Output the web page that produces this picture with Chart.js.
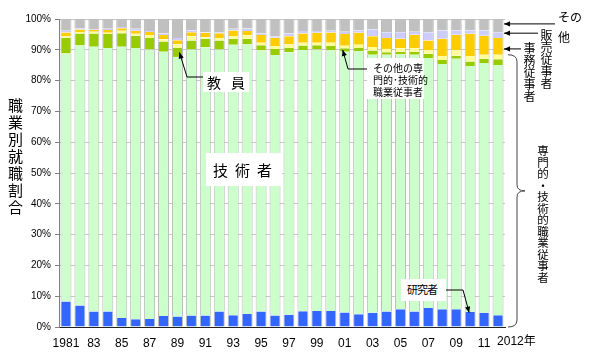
<!DOCTYPE html>
<html><head><meta charset="utf-8">
<script src="https://cdn.jsdelivr.net/npm/chart.js@4.4.1/dist/chart.umd.min.js"></script>
<style>
html,body{margin:0;padding:0;background:#fff;}
#wrap{position:relative;width:600px;height:360px;overflow:hidden;font-family:"Noto Sans CJK JP",sans-serif;color:#000;}
canvas{position:absolute;left:0;top:0;}
.lbl{position:absolute;white-space:nowrap;line-height:1;}
.box{background:#fff;}
.v{writing-mode:vertical-rl;text-orientation:upright;}
</style></head>
<body>
<div id="wrap">
<canvas id="c" width="600" height="360"></canvas>
<div class="lbl v" style="left:7px;top:98px;font-size:15px;line-height:16px;letter-spacing:2px;">職業別就職割合</div>
<div class="lbl box" style="left:203px;top:72px;width:46px;height:20px;"></div>
<div class="lbl" style="left:207px;top:75px;font-size:14px;">教<span style="margin-left:10px">員</span></div>
<div class="lbl box" style="left:206px;top:153px;width:76px;height:33px;"></div>
<div class="lbl" style="left:213px;top:162px;font-size:15px;">技<span style="margin-left:7px">術</span><span style="margin-left:7px">者</span></div>
<div class="lbl box" style="left:367px;top:58px;width:57px;height:41px;"></div>
<div class="lbl" style="left:373px;top:62px;font-size:10px;line-height:12px;">その他の専<br>門的･技術的<br>職業従事者</div>
<div class="lbl box" style="left:401px;top:279px;width:45px;height:22px;"></div>
<div class="lbl" style="left:407px;top:284px;font-size:11px;letter-spacing:-1px;">研究者</div>
<div class="lbl" style="left:558px;top:7px;font-size:12px;line-height:20px;">その<br>他</div>
<div class="lbl v" style="left:540px;top:29px;font-size:12px;line-height:12px;">販売従事者</div>
<div class="lbl v" style="left:523px;top:42px;font-size:12px;line-height:12px;">事務従事者</div>
<div class="lbl v" style="left:537px;top:145px;font-size:11.5px;line-height:12px;">専門的・技術的職業従事者</div>
</div>
<script>
const years = [1981,1982,1983,1984,1985,1986,1987,1988,1989,1990,1991,1992,1993,1994,1995,1996,1997,1998,1999,2000,2001,2002,2003,2004,2005,2006,2007,2008,2009,2010,2011,2012];
const tickLabels = ['1981','','83','','85','','87','','89','','91','','93','','95','','97','','99','','01','','03','','05','','07','','09','','11','2012年'];
const researchers = [8.3,7.0,5.0,5.0,2.9,2.5,2.6,3.6,3.4,3.7,3.7,5.0,3.8,4.2,5.0,3.7,4.0,5.1,5.2,5.2,4.7,4.1,4.6,5.0,5.8,5.0,6.2,5.8,5.8,4.9,4.6,3.8];
const engineers = [80.5,84.4,86.0,85.6,88.1,88.1,87.5,85.8,84.3,86.4,87.1,85.1,87.8,87.5,84.8,84.6,85.2,84.8,84.9,84.6,84.7,85.5,83.8,83.4,82.7,83.4,81.1,79.6,81.3,79.8,81.1,81.3];
const teachers = [5.0,3.9,4.3,4.5,4.4,4.0,3.7,3.3,2.9,2.9,2.8,2.9,2.0,1.9,1.7,2.0,1.4,1.5,1.4,1.4,1.1,1.0,1.4,0.8,0.9,1.0,1.4,1.3,1.0,1.5,1.4,1.8];
const otherProfessional = [0.5,0.5,0.6,0.4,0.8,0.6,1.0,0.7,1.2,1.4,0.5,0.8,0.9,1.1,0.8,0.9,1.1,0.9,0.8,1.1,0.8,1.0,1.1,1.1,1.1,1.1,1.1,1.3,1.7,1.8,1.3,1.5];
const clerical = [1.3,0.8,0.5,0.9,0.8,1.0,1.0,1.4,1.3,1.3,1.4,1.6,1.8,1.4,2.5,2.7,2.7,3.0,3.2,3.3,3.8,3.9,3.5,3.5,3.1,4.4,3.2,5.6,5.1,7.2,6.2,5.4];
const sales = [0.6,0.4,0.3,0.4,0.4,0.6,0.3,0.5,0.7,0.6,0.2,0.3,0.5,0.8,0.5,0.5,0.9,0.8,0.6,0.6,0.8,0.8,2.2,1.9,2.1,1.0,2.7,2.7,1.4,1.1,1.7,1.9];
const others = [3.8,3.0,3.3,3.2,2.6,3.2,3.9,4.7,6.2,3.7,4.3,4.3,3.2,3.1,4.7,5.6,4.7,3.9,3.9,3.8,4.1,3.7,3.4,4.3,4.3,4.1,4.3,3.7,3.7,3.7,3.7,4.3];
const seriesNames = ['研究者','技術者','教員','その他の専門的・技術的職業従事者','事務従事者','販売従事者','その他'];
const series = [researchers, engineers, teachers, otherProfessional, clerical, sales, others];
const colors = ['#3366FF','#CCFFCC','#99CC00','#FFFF99','#FFCC00','#CCCCFF','#C0C0C0'];

function arrow(ctx, pts){
  ctx.beginPath();
  ctx.moveTo(pts[0][0], pts[0][1]);
  for (let i=1;i<pts.length;i++) ctx.lineTo(pts[i][0], pts[i][1]);
  ctx.stroke();
  const [x2,y2] = pts[pts.length-1], [x1,y1] = pts[pts.length-2];
  const a = Math.atan2(y2-y1, x2-x1), L = 6, W = 2.6;
  ctx.beginPath();
  ctx.moveTo(x2,y2);
  ctx.lineTo(x2 - L*Math.cos(a) + W*Math.sin(a), y2 - L*Math.sin(a) - W*Math.cos(a));
  ctx.lineTo(x2 - L*Math.cos(a) - W*Math.sin(a), y2 - L*Math.sin(a) + W*Math.cos(a));
  ctx.closePath();
  ctx.fill();
}

const annot = {
  id:'annot',
  afterDraw(chart){
    const {ctx, scales:{x, y}} = chart;
    const cum = (i,k,f) => { let s=0; for(let j=0;j<k;j++) s+=series[j][i]; return s + series[k][i]*f; };
    const n = years.length - 1;
    ctx.save();
    ctx.font = '12px "Liberation Sans", "Noto Sans CJK JP"';
    ctx.fillStyle = '#000';
    ctx.textAlign = 'left'; ctx.textBaseline = 'top';
    ctx.fillText(tickLabels[n], x.getPixelForValue(n) - 1, 336);
    ctx.strokeStyle = '#000'; ctx.fillStyle = '#000'; ctx.lineWidth = 1;
    arrow(ctx, [[203,77],[187,77],[x.getPixelForValue(8)+2, y.getPixelForValue(cum(8,2,0.5))]]);
    arrow(ctx, [[367,69],[348,69],[x.getPixelForValue(20)-2, y.getPixelForValue(cum(20,2,0.5))]]);
    arrow(ctx, [[446,290],[463,290],[x.getPixelForValue(29)-1, y.getPixelForValue(cum(29,0,0.95))]]);
    const xr = x.getPixelForValue(n) + 6;
    let yy = y.getPixelForValue(cum(n,6,0.63)); arrow(ctx, [[555,yy],[xr,yy]]);
    yy = y.getPixelForValue(cum(n,5,0.84)); arrow(ctx, [[538,yy],[xr,yy]]);
    yy = y.getPixelForValue(cum(n,4,0.35)); arrow(ctx, [[521,yy],[xr,yy]]);
    const top = y.getPixelForValue(cum(n,3,1)), bot = y.getPixelForValue(0), mid = (top+bot)/2;
    ctx.strokeStyle = '#444';
    ctx.beginPath();
    ctx.moveTo(508, top);
    ctx.quadraticCurveTo(517, top, 517, top+7);
    ctx.lineTo(517, mid-6);
    ctx.quadraticCurveTo(517, mid, 525, mid);
    ctx.quadraticCurveTo(517, mid, 517, mid+6);
    ctx.lineTo(517, bot-7);
    ctx.quadraticCurveTo(517, bot, 508, bot);
    ctx.stroke();
    ctx.restore();
  }
};

new Chart(document.getElementById('c'), {
  type:'bar',
  data:{
    labels: years,
    datasets: series.map((d,k)=>({
      label: seriesNames[k], data: d, backgroundColor: colors[k],
      borderColor:'#bcbcbc', borderWidth:{left:1,right:1,top:0,bottom:0}, borderSkipped:false,
      barPercentage:0.79, categoryPercentage:1.0
    }))
  },
  options:{
    responsive:false, animation:false, devicePixelRatio:1,
    layout:{padding:{left:0,right:95,top:19,bottom:0}},
    plugins:{legend:{display:false}, tooltip:{enabled:false}},
    scales:{
      x:{stacked:true,
        grid:{display:false, drawTicks:false},
        border:{display:true,color:'#222',width:1},
        ticks:{autoSkip:false,maxRotation:0,padding:9,color:'#000',
          font:{family:'"Liberation Sans", "Noto Sans CJK JP"',size:12},
          callback:(v,i)=> i===years.length-1 ? '' : tickLabels[i]},
        afterFit:(s)=>{s.height=33;}
      },
      y:{stacked:true,min:0,max:100,
        grid:{color:'#c8c8c8',tickLength:4,tickColor:'#808080'},
        border:{display:true,color:'#808080'},
        ticks:{stepSize:10,padding:4,color:'#000',
          font:{family:'"Liberation Sans"',size:10},
          callback:(v)=>v+'%'},
        afterFit:(s)=>{s.width=59;}
      }
    }
  },
  plugins:[annot]
});
</script>
</body></html>
